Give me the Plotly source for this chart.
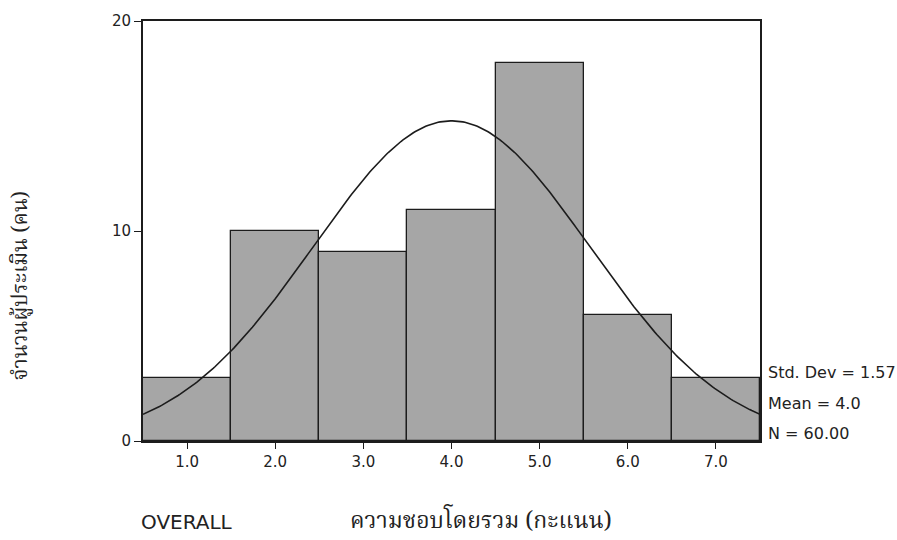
import numpy as np
import plotly.graph_objects as go

# Histogram of overall satisfaction scores
score_bins = [1.0, 2.0, 3.0, 4.0, 5.0, 6.0, 7.0]
counts = [3, 10, 9, 11, 18, 6, 3]
tick_labels = ["1.0", "2.0", "3.0", "4.0", "5.0", "6.0", "7.0"]

# Summary statistics shown beside the chart
std_dev = 1.57
mean = 4.0
n_total = 60
bin_width = 1.0

stat_lines = [f"Std. Dev = {std_dev:.2f}", f"Mean = {mean:.1f}", f"N = {n_total:.2f}"]
stat_y = [3.25, 1.8, 0.38]

# Normal curve scaled to the histogram (count per bin)
xc = np.linspace(0.5, 7.5, 300)
yc = n_total * bin_width / (std_dev * np.sqrt(2 * np.pi)) * np.exp(-0.5 * ((xc - mean) / std_dev) ** 2)

ink = "#1c1c1c"
thai_font = "Noto Serif Thai, Noto Sans Thai, Loma, Garuda, Tlwg Typo, Liberation Serif, serif"

fig = go.Figure()
fig.add_trace(go.Bar(
    x=score_bins, y=counts, width=bin_width,
    marker=dict(color="#a6a6a6", line=dict(color=ink, width=1.3)),
    showlegend=False, hoverinfo="x+y",
))
fig.add_trace(go.Scatter(
    x=xc, y=yc, mode="lines", line=dict(color=ink, width=1.6),
    showlegend=False, hoverinfo="skip",
))

for txt, yy in zip(stat_lines, stat_y):
    fig.add_annotation(x=7.5, y=yy, xref="x", yref="y", text=txt, showarrow=False,
                       xanchor="left", yanchor="middle", xshift=6,
                       font=dict(family="DejaVu Sans", size=16, color="#222"))

fig.add_annotation(x=1.0, y=-0.193, xref="x", yref="paper", text="OVERALL", showarrow=False,
                   xanchor="center", yanchor="middle",
                   font=dict(family="DejaVu Sans", size=20, color="#222"))
fig.add_annotation(x=4.33, y=-0.193, xref="x", yref="paper", text="ความชอบโดยรวม (กะแนน)",
                   showarrow=False, xanchor="center", yanchor="middle",
                   font=dict(family=thai_font, size=23, color="#222"))
# y-title placed in pixels left of the plot area
fig.add_annotation(x=0, y=0.37, xref="paper", yref="paper", text="จำนวนผู้ประเมิน (คน)",
                   showarrow=False, textangle=-90, xanchor="center", yanchor="middle",
                   xshift=-121,
                   font=dict(family=thai_font, size=21, color="#222"))

fig.update_layout(
    width=897, height=540,
    margin=dict(l=143, r=137, t=17, b=99),
    paper_bgcolor="white", plot_bgcolor="white",
    bargap=0,
    xaxis=dict(range=[0.5, 7.5], tickvals=score_bins, ticktext=tick_labels,
               ticks="outside", ticklen=6, tickcolor=ink, tickwidth=1.3,
               showline=True, linecolor=ink, linewidth=1.8, mirror=True,
               showgrid=False, zeroline=False,
               tickfont=dict(family="DejaVu Sans", size=15, color="#222")),
    yaxis=dict(range=[0, 20], tickvals=[0, 10, 20],
               ticks="outside", ticklen=7, tickcolor=ink, tickwidth=1.3,
               showline=True, linecolor=ink, linewidth=1.8, mirror=True,
               showgrid=False, zeroline=False,
               tickfont=dict(family="DejaVu Sans", size=15, color="#222")),
)

fig.write_html("out.html")
